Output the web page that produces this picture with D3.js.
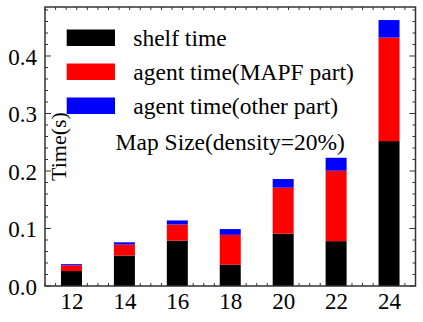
<!DOCTYPE html>
<html><head><meta charset="utf-8">
<script src="https://cdn.jsdelivr.net/npm/d3@7"></script>
<style>body{margin:0;background:#fff}svg{display:block}svg text{font-family:"Liberation Serif","Times New Roman",serif !important;fill:#000}</style>
</head><body>
<svg id="c" width="423" height="322"></svg>
<script>
const mapSizes = [12, 14, 16, 18, 20, 22, 24];
const shelfTime = [0.026, 0.053, 0.079, 0.037, 0.091, 0.078, 0.252];
const agentMapf = [0.010, 0.019, 0.028, 0.052, 0.080, 0.1225, 0.180];
const agentOther = [0.002, 0.004, 0.007, 0.010, 0.015, 0.0225, 0.0305];
const seriesNames = ["shelf time", "agent time(MAPF part)", "agent time(other part)"];
const seriesColors = ["#000000", "#ff0000", "#0000ff"];
const yTicks = [0.0, 0.1, 0.2, 0.3, 0.4];
const xLabel = "Map Size(density=20%)";
const yLabel = "Time(s)";

const FONT = '"Liberation Serif", "Times New Roman", serif';
const svg = d3.select("#c");
const L = 45, R = 415.5, T = 7, B = 286;
const x = d3.scaleLinear().domain([11, 25]).range([L, R]);
const y = d3.scaleLinear().domain([0, 0.4852]).range([B, T]);
const barW = 21;

const rows = mapSizes.map((m, i) => ({m, s0: shelfTime[i], s1: agentMapf[i], s2: agentOther[i]}));
const stack = d3.stack().keys(["s0", "s1", "s2"])(rows);

const axisColor = "#333";
const g = svg.append("g");
const xMinor = d3.range(11, 25.001, 0.4).map(v => +v.toFixed(1));
xMinor.forEach(v => {
  const major = Math.abs(v % 2) < 1e-6;
  const len = major ? 6 : 3;
  g.append("line").attr("x1", x(v)).attr("x2", x(v)).attr("y1", B).attr("y2", B - len).attr("stroke", axisColor).attr("stroke-width", 1);
  g.append("line").attr("x1", x(v)).attr("x2", x(v)).attr("y1", T).attr("y2", T + len).attr("stroke", axisColor).attr("stroke-width", 1);
});
const yMinor = d3.range(0, 0.481, 0.02).map(v => +v.toFixed(2));
yMinor.forEach(v => {
  const major = Math.abs((v * 100) % 10) < 1e-6;
  const len = major ? 6 : 3;
  g.append("line").attr("x1", L).attr("x2", L + len).attr("y1", y(v)).attr("y2", y(v)).attr("stroke", axisColor).attr("stroke-width", 1);
  g.append("line").attr("x1", R).attr("x2", R - len).attr("y1", y(v)).attr("y2", y(v)).attr("stroke", axisColor).attr("stroke-width", 1);
});

stack.forEach((layer, k) => {
  svg.append("g").selectAll("rect").data(layer).join("rect")
    .attr("x", d => x(d.data.m) - barW / 2)
    .attr("width", barW)
    .attr("y", d => y(d[1]))
    .attr("height", d => y(d[0]) - y(d[1]))
    .attr("fill", seriesColors[k]);
});

svg.append("rect").attr("x", L).attr("y", T).attr("width", R - L).attr("height", B - T)
  .attr("fill", "none").attr("stroke", axisColor).attr("stroke-width", 1.5);

const xa = svg.append("g").attr("transform", `translate(0,${B})`)
  .call(d3.axisBottom(x).tickValues(mapSizes).tickSize(0).tickPadding(0).tickFormat(d3.format("d")))
  .attr("font-family", FONT).attr("font-size", 23);
xa.select(".domain").remove();
xa.selectAll("text").attr("dy", null).attr("y", 23).style("font-family", FONT).style("font-size", "23px");

const ya = svg.append("g").attr("transform", `translate(${L},0)`)
  .call(d3.axisLeft(y).tickValues(yTicks).tickSize(0).tickPadding(0).tickFormat(d3.format(".1f")))
  .attr("font-family", FONT).attr("font-size", 23);
ya.select(".domain").remove();
ya.selectAll("text").attr("x", -8).attr("dy", "0.36em").style("font-family", FONT).style("font-size", "23px");

seriesNames.forEach((n, i) => {
  const yy = 29.5 + i * 34;
  svg.append("rect").attr("x", 66.7).attr("y", yy).attr("width", 48.3).attr("height", 16.5).attr("fill", seriesColors[i]);
  svg.append("text").attr("x", 133.3).attr("y", yy + 16).style("font-size", "23.5px").text(n);
});

svg.append("text").attr("x", (L + R) / 2).attr("y", 149.5).attr("text-anchor", "middle").style("font-size", "23.5px").text(xLabel);
svg.append("text").attr("transform", `translate(66,${(T + B) / 2}) rotate(-90)`).attr("text-anchor", "middle").style("font-size", "22px").text(yLabel);
</script>
</body></html>
